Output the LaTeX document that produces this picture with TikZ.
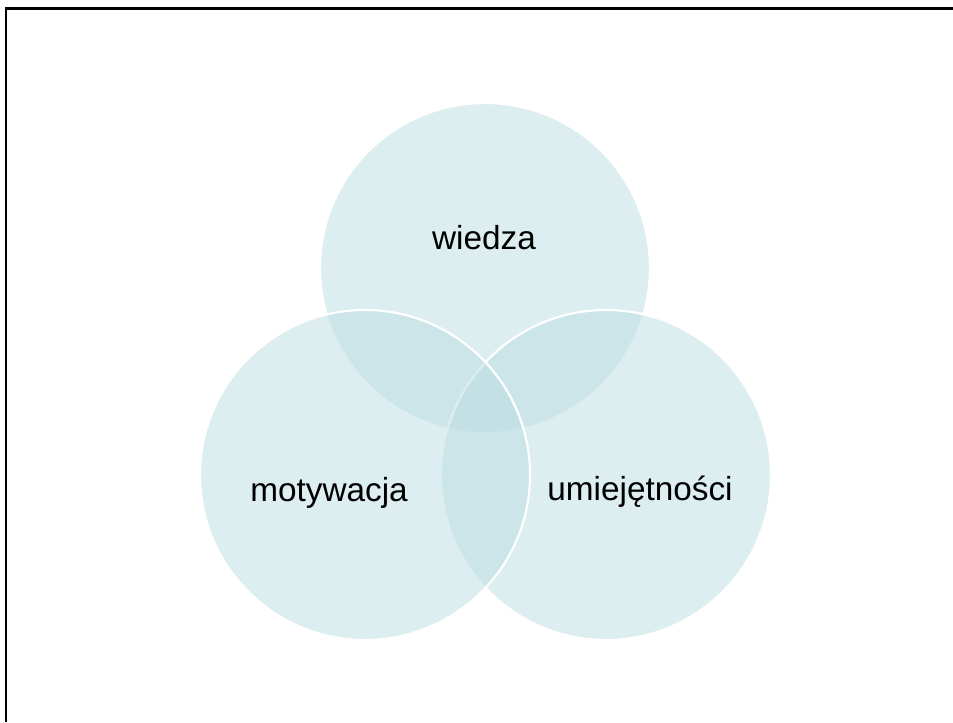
\documentclass[tikz,border=0pt]{standalone}
\usepackage{fontspec}
\setmainfont{Liberation Sans}
\definecolor{vennfill}{RGB}{187,221,225}
\tikzset{
	venn/.style={circle, minimum size=330*0.75pt, inner sep=0pt, fill=vennfill, fill opacity=0.5, draw=white, line width=1.6pt},
	label/.style={anchor=base, inner sep=0.75pt, font=\fontsize{25}{30}\selectfont}
}

\begin{document}
\begin{tikzpicture}[x=0.75pt,y=0.75pt,yscale=-1,xscale=1]
	\useasboundingbox (0,0) rectangle (953,722);
	% frame
	\draw [line width=2.2pt] (6,722) -- (6,8.5) -- (953,8.5) ;
	% circles
	\node [venn] (wiedzaC) at (485,268) {};
	\node [venn] (umiejC) at (606,475) {};
	\node [venn] (motywC) at (365,475) {};
	% labels
	\node [label] (wiedzaT) at (484,249) {wiedza};
	\node [label] (motywT) at (329,501) {motywacja};
	\node [label] (umiejT) at (640,500) {umiejętności};
\end{tikzpicture}
\end{document}
